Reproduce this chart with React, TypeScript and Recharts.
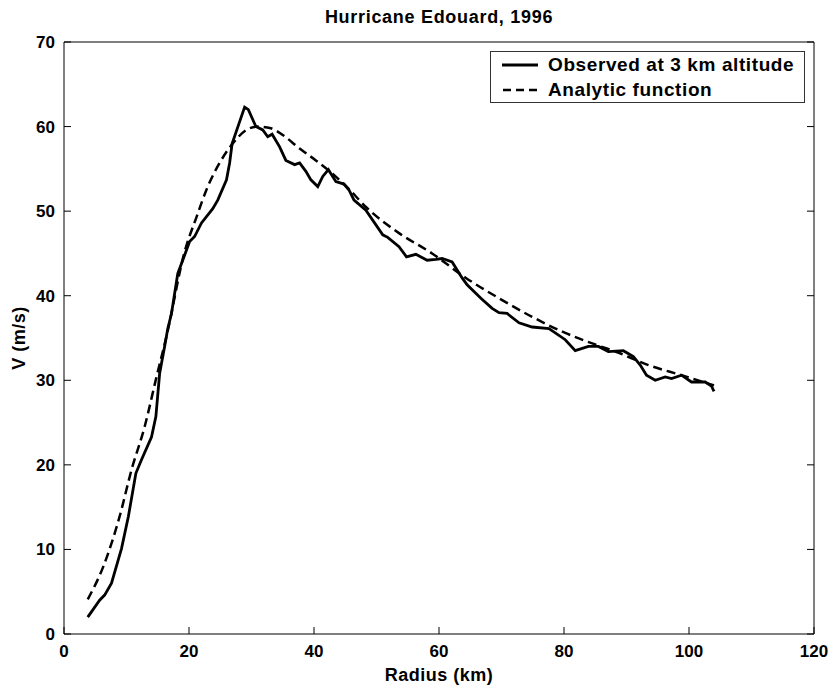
// Chart: Hurricane Edouard (1996) tangential wind profile, observed vs analytic fit.

import { Legend, Line, LineChart, XAxis, YAxis } from "recharts";

// observed at 3 km altitude: radius (km) and wind speed (m/s)
const obsRadius = [
  3.8, 5.7, 6.5, 7.6, 9.2, 10.3, 11.5, 12.4, 14.0, 14.7, 15.3, 16.1, 16.6, 17.2,
  18.2, 19.6, 20.1, 20.9, 22.0, 23.8, 24.6, 26.0, 26.5, 26.9, 28.9, 29.5, 30.7,
  31.8, 32.6, 33.3, 34.5, 35.5, 36.9, 37.7, 38.7, 39.5, 40.6, 41.4, 42.3, 43.5,
  44.8, 45.6, 46.4, 48.3, 51.0, 51.8, 53.6, 54.8, 56.3, 58.1, 59.5, 60.5, 62.1,
  63.7, 64.5, 66.7, 68.5, 69.6, 70.9, 72.8, 74.9, 77.6, 80.2, 81.8, 83.9, 85.5,
  87.1, 89.5, 91.1, 92.2, 93.2, 94.6, 96.2, 97.2, 98.8, 100.4, 102.6, 103.6, 104.0,
];
const obsSpeed = [
  2.0, 4.0, 4.6, 6.0, 10.1, 13.9, 19.0, 20.6, 23.3, 25.7, 30.8, 34.0, 36.1, 37.9,
  42.6, 45.4, 46.4, 47.0, 48.6, 50.3, 51.3, 53.7, 55.7, 58.0, 62.3, 62.0, 60.0,
  59.6, 58.8, 59.1, 57.6, 56.0, 55.5, 55.7, 54.7, 53.7, 52.9, 54.1, 54.9, 53.5,
  53.2, 52.5, 51.3, 50.1, 47.2, 46.9, 45.8, 44.6, 44.9, 44.2, 44.3, 44.4, 44.0,
  42.1, 41.3, 39.7, 38.5, 38.0, 37.9, 36.8, 36.3, 36.1, 34.8, 33.5, 34.0, 34.0,
  33.4, 33.5, 32.8, 31.8, 30.6, 30.0, 30.4, 30.2, 30.6, 29.8, 29.8, 29.3, 28.7,
];

// analytic function
const fitRadius = [
  3.8, 6.3, 8.9, 10.8, 12.9, 14.8, 16.4, 19.3, 21.2, 23.0, 24.9, 27.0, 29.2, 31.0,
  33.1, 35.0, 37.7, 40.3, 43.0, 45.6, 48.3, 53.6, 58.9, 64.3, 69.6, 74.9, 80.2,
  85.5, 88.2, 93.5, 98.8, 104.0,
];
const fitSpeed = [
  4.1, 8.0, 13.9, 19.4, 24.5, 30.4, 35.2, 45.2, 49.3, 52.9, 55.7, 58.0, 59.6, 60.0,
  59.8, 59.0, 57.4, 56.0, 54.4, 52.6, 50.5, 47.4, 45.0, 42.1, 39.7, 37.5, 35.6,
  34.1, 33.4, 31.8, 30.6, 29.4,
];

const xTicks = [0, 20, 40, 60, 80, 100, 120];
const yTicks = [0, 10, 20, 30, 40, 50, 60, 70];

const observed = obsRadius.map((r, i) => ({ r, v: obsSpeed[i] }));
const analytic = fitRadius.map((r, i) => ({ r, v: fitSpeed[i] }));

const font = "'Liberation Sans', Arial, sans-serif";
const TICK = 7; // matlab-style inward tick length

// ticks point into the plot, labels sit outside
function BottomTick(props: any) {
  const { x, y, payload } = props;
  return (
    <g>
      <line x1={x} x2={x} y1={y} y2={y - TICK} stroke="#000" />
      <text x={x} y={y + 23} textAnchor="middle" fontFamily={font} fontSize={17} fontWeight="bold" fill="#000">
        {payload.value}
      </text>
    </g>
  );
}

function LeftTick(props: any) {
  const { x, y, payload } = props;
  return (
    <g>
      <line x1={x} x2={x + TICK} y1={y} y2={y} stroke="#000" />
      <text x={x - 9} y={y + 6} textAnchor="end" fontFamily={font} fontSize={17} fontWeight="bold" fill="#000">
        {payload.value}
      </text>
    </g>
  );
}

function TopTick(props: any) {
  const { x, y } = props;
  return <line x1={x} x2={x} y1={y} y2={y + TICK} stroke="#000" />;
}

function RightTick(props: any) {
  const { x, y } = props;
  return <line x1={x} x2={x - TICK} y1={y} y2={y} stroke="#000" />;
}

function YLabel(props: any) {
  const { viewBox } = props;
  const cx = viewBox.x + 1;
  const cy = viewBox.y + viewBox.height / 2;
  return (
    <text
      x={cx}
      y={cy}
      transform={`rotate(-90 ${cx} ${cy})`}
      textAnchor="middle"
      fontFamily={font}
      fontSize={18}
      fontWeight="bold"
      fill="#000"
      style={{ letterSpacing: 0.5 }}
    >
      V (m/s)
    </text>
  );
}

function LegendBox() {
  const row = { display: "flex", alignItems: "center", height: 26 };
  return (
    <div
      style={{
        boxSizing: "border-box",
        border: "1px solid #333",
        background: "#fff",
        paddingLeft: 11,
        height: 52,
        display: "flex",
        flexDirection: "column",
        justifyContent: "center",
        fontFamily: font,
        fontSize: 19,
        fontWeight: "bold",
        letterSpacing: 0.6,
        color: "#000",
      }}
    >
      <div style={row}>
        <svg width={46} height={10} style={{ flex: "none" }}>
          <line x1={0} x2={36} y1={5} y2={5} stroke="#000" strokeWidth={2.8} />
        </svg>
        <span>Observed at 3 km altitude</span>
      </div>
      <div style={row}>
        <svg width={46} height={10} style={{ flex: "none" }}>
          <line x1={1} x2={36} y1={5} y2={5} stroke="#000" strokeWidth={2.5} strokeDasharray="8 5" />
        </svg>
        <span>Analytic function</span>
      </div>
    </div>
  );
}

export default function App() {
  return (
    <div style={{ position: "absolute", left: 0, top: 0, width: 833, height: 688, background: "#fff" }}>
      <div
        style={{
          position: "absolute",
          left: 64,
          width: 750,
          top: 7,
          textAlign: "center",
          fontFamily: font,
          fontSize: 18,
          fontWeight: "bold",
          letterSpacing: 0.7,
          color: "#000",
        }}
      >
        Hurricane Edouard, 1996
      </div>
      <LineChart width={833} height={688} margin={{ top: 41, right: 18, bottom: 4, left: 24 }}>
        <XAxis
          type="number"
          dataKey="r"
          domain={[0, 120]}
          ticks={xTicks}
          interval={0}
          allowDataOverflow
          height={50}
          tickSize={0}
          tickMargin={0}
          tickLine={false}
          stroke="#000"
          tick={BottomTick}
          label={{
            value: "Radius (km)",
            position: "insideBottom",
            offset: 3,
            style: { fontFamily: font, fontSize: 18, fontWeight: "bold", fill: "#000", letterSpacing: 0.5 },
          }}
        />
        <XAxis
          xAxisId="top"
          orientation="top"
          type="number"
          domain={[0, 120]}
          ticks={xTicks}
          interval={0}
          allowDataOverflow
          height={1}
          tickSize={0}
          tickMargin={0}
          tickLine={false}
          stroke="#000"
          tick={TopTick}
        />
        <YAxis
          type="number"
          domain={[0, 70]}
          ticks={yTicks}
          interval={0}
          allowDataOverflow
          width={40}
          tickSize={0}
          tickMargin={0}
          tickLine={false}
          stroke="#000"
          tick={LeftTick}
          label={{ content: YLabel }}
        />
        <YAxis
          yAxisId="right"
          orientation="right"
          type="number"
          domain={[0, 70]}
          ticks={yTicks}
          interval={0}
          allowDataOverflow
          width={1}
          tickSize={0}
          tickMargin={0}
          tickLine={false}
          stroke="#000"
          tick={RightTick}
        />
        <Legend
          content={() => <LegendBox />}
          wrapperStyle={{ position: "absolute", left: 490, top: 51, width: 315, height: 0, bottom: "auto", overflow: "visible" }}
        />
        <Line
          data={observed}
          dataKey="v"
          type="linear"
          stroke="#000"
          strokeWidth={2.8}
          dot={false}
          activeDot={false}
          isAnimationActive={false}
        />
        <Line
          data={analytic}
          dataKey="v"
          type="monotone"
          stroke="#000"
          strokeWidth={2.5}
          strokeDasharray="9 5"
          dot={false}
          activeDot={false}
          isAnimationActive={false}
        />
      </LineChart>
    </div>
  );
}
